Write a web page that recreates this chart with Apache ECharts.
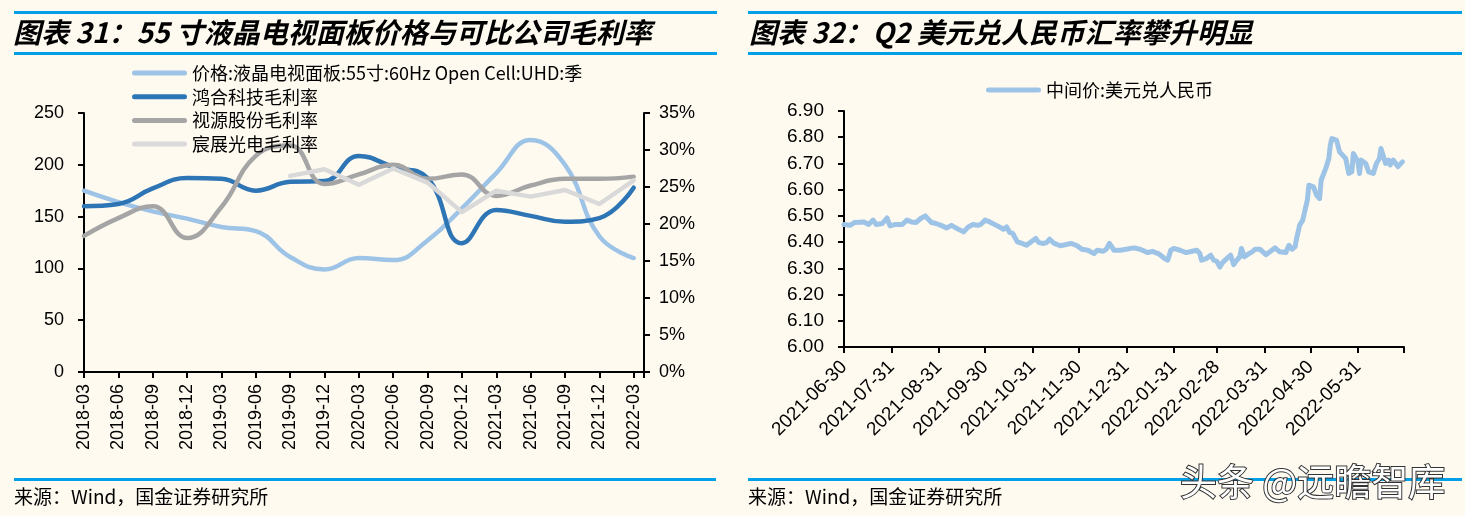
<!DOCTYPE html>
<html><head><meta charset="utf-8">
<script src="https://cdn.jsdelivr.net/npm/echarts@6/dist/echarts.min.js"></script>
<style>html,body{margin:0;padding:0;background:#FEFAF0;}#c{width:1465px;height:516px;}</style>
</head><body><div id="c"></div>
<script>
// ---------- Chart 31 data ----------
const quarters = ['2018-03','2018-06','2018-09','2018-12','2019-03','2019-06','2019-09','2019-12','2020-03','2020-06','2020-09','2020-12','2021-03','2021-06','2021-09','2021-12','2022-03'];
const priceName = '价格:液晶电视面板:55寸:60Hz Open Cell:UHD:季';
const priceTV  = [175,164,155,148,140,136,111,99,110,108,127,158,192,224,200,131,110];
const hongheGM = [22.4,22.7,24.8,26.2,26.1,24.5,25.7,25.8,29.2,27.7,26.2,17.4,21.9,21.1,20.3,20.8,24.9];
const cvteGM   = [18.4,20.8,22.4,18.1,22.3,29.2,30.6,25.4,26.7,28.0,26.1,26.7,23.8,25.2,26.1,26.1,26.4];
const kztGM    = [null,null,null,null,null,null,26.5,27.4,25.3,27.5,25.6,21.6,24.5,23.7,24.6,22.7,25.9];

// ---------- Chart 32 data ----------
const fxName = '中间价:美元兑人民币';
const fxDates = ['2021-06-30','2021-07-04','2021-07-07','2021-07-13','2021-07-16','2021-07-19','2021-07-21','2021-07-25','2021-07-28','2021-07-30',
'2021-08-02','2021-08-07','2021-08-10','2021-08-13','2021-08-16','2021-08-19','2021-08-22','2021-08-24','2021-08-26','2021-08-29',
'2021-09-02','2021-09-05','2021-09-08','2021-09-11','2021-09-16','2021-09-19','2021-09-22','2021-09-25','2021-09-27','2021-09-30',
'2021-10-03','2021-10-08','2021-10-12','2021-10-14','2021-10-16','2021-10-18','2021-10-21','2021-10-24','2021-10-27','2021-10-30',
'2021-11-02','2021-11-04','2021-11-07','2021-11-09','2021-11-11','2021-11-14','2021-11-18','2021-11-22','2021-11-25','2021-11-29',
'2021-12-02','2021-12-06','2021-12-10','2021-12-12','2021-12-16','2021-12-18','2021-12-20','2021-12-23','2021-12-27','2021-12-31',
'2022-01-05','2022-01-09','2022-01-12','2022-01-14','2022-01-17','2022-01-19','2022-01-21','2022-01-23','2022-01-25','2022-01-27','2022-01-29','2022-01-31',
'2022-02-04','2022-02-08','2022-02-12','2022-02-15','2022-02-17','2022-02-18','2022-02-21','2022-02-24','2022-02-26','2022-02-28',
'2022-03-02','2022-03-04','2022-03-07','2022-03-09','2022-03-11','2022-03-13','2022-03-15','2022-03-16','2022-03-18','2022-03-21','2022-03-23','2022-03-25','2022-03-28',
'2022-04-01','2022-04-04','2022-04-07','2022-04-10','2022-04-14','2022-04-16','2022-04-18','2022-04-20','2022-04-21','2022-04-23','2022-04-25','2022-04-27','2022-04-28','2022-04-29',
'2022-05-02','2022-05-04','2022-05-06','2022-05-07','2022-05-10','2022-05-12','2022-05-13','2022-05-14','2022-05-17','2022-05-19','2022-05-20','2022-05-23','2022-05-25','2022-05-27','2022-05-28','2022-05-31',
'2022-06-01','2022-06-02','2022-06-05','2022-06-07','2022-06-10','2022-06-12','2022-06-14','2022-06-15','2022-06-18','2022-06-20','2022-06-21','2022-06-23','2022-06-26','2022-06-29'];
const fxRates = [6.467,6.464,6.475,6.477,6.467,6.484,6.467,6.471,6.492,6.462,
6.467,6.467,6.484,6.477,6.475,6.490,6.500,6.487,6.475,6.471,
6.462,6.454,6.464,6.454,6.439,6.458,6.467,6.464,6.467,6.484,
6.477,6.462,6.449,6.458,6.437,6.433,6.401,6.395,6.388,6.401,
6.414,6.398,6.395,6.398,6.411,6.395,6.386,6.391,6.395,6.386,
6.373,6.369,6.356,6.369,6.365,6.373,6.395,6.369,6.369,6.373,
6.378,6.373,6.365,6.360,6.365,6.360,6.356,6.347,6.337,6.331,6.369,6.376,
6.369,6.360,6.365,6.369,6.356,6.331,6.337,6.350,6.331,6.327,
6.305,6.324,6.340,6.350,6.314,6.331,6.344,6.376,6.344,6.356,6.363,6.373,6.373,
6.352,6.365,6.378,6.363,6.360,6.388,6.373,6.382,6.414,6.465,6.484,6.535,6.560,6.617,
6.611,6.579,6.566,6.636,6.681,6.719,6.770,6.795,6.789,6.744,6.751,6.719,6.662,6.668,6.738,6.706,
6.662,6.713,6.700,6.668,6.662,6.700,6.719,6.757,6.700,6.713,6.694,6.713,6.688,6.706];
const fxStart = '2021-06-30', fxEnd = '2022-06-30';

// calendar of the FX x axis (one category per day)
const fxDays = [];
for (let t = Date.parse(fxStart); t <= Date.parse(fxEnd); t += 86400000) {
  fxDays.push(new Date(t).toISOString().slice(0,10));
}
const isMonthEnd = s => new Date(Date.parse(s) + 86400000).getUTCDate() === 1;

const NUM_FONT = 'Liberation Sans, Arial, sans-serif';
const CJK_FONT = 'Noto Sans CJK SC, sans-serif';
const blue = '#00A0E9';
const axisBlack = {show:true, lineStyle:{color:'#000', width:2}};
const tickBlack = {show:true, length:6, lineStyle:{color:'#000', width:2}};
const pill = 'path://M2.5,0H52.5A2.5,2.5,0,0,1,52.5,5H2.5A2.5,2.5,0,0,1,2.5,0Z';

const chart = echarts.init(document.getElementById('c'), null, {renderer:'canvas'});
chart.setOption({
  backgroundColor: '#FEFAF0',
  animation: false,
  grid: [
    {left:84, right:821, top:113, bottom:144, outerBoundsMode:'none'},
    {left:844, right:61, top:111, bottom:169, outerBoundsMode:'none'}
  ],
  legend: [
    {orient:'vertical', left:132, top:64, padding:0, itemWidth:55, itemHeight:5, itemGap:5.7, icon:pill,
     data:[priceName,'鸿合科技毛利率','视源股份毛利率','宸展光电毛利率'],
     textStyle:{color:'#000', fontSize:18, lineHeight:16, fontFamily:CJK_FONT}},
    {orient:'horizontal', left:986, top:81, padding:0, itemWidth:55, itemHeight:5, icon:pill,
     data:[fxName], textStyle:{color:'#000', fontSize:18, lineHeight:16, fontFamily:CJK_FONT}}
  ],
  xAxis: [
    {type:'value', gridIndex:0, min:0, max:16.3, interval:1,
     axisLine:axisBlack, axisTick:tickBlack, splitLine:{show:false},
     axisLabel:{rotate:90, margin:12, color:'#000', fontSize:18, fontFamily:NUM_FONT, hideOverlap:false,
       formatter: v => Number.isInteger(v) ? quarters[v] : ''}},
    {type:'category', gridIndex:1, data:fxDays, boundaryGap:false,
     axisLine:axisBlack,
     axisTick:{show:true, length:6, lineStyle:{color:'#000', width:2}, interval:(i,v)=>isMonthEnd(v)},
     splitLine:{show:false},
     axisLabel:{rotate:45, margin:17, color:'#000', fontSize:19, fontFamily:NUM_FONT, hideOverlap:false,
       interval:(i,v)=>isMonthEnd(v) && v !== fxEnd}}
  ],
  yAxis: [
    {type:'value', gridIndex:0, position:'left', min:0, max:250, interval:50,
     axisLine:axisBlack, axisTick:tickBlack, splitLine:{show:false},
     axisLabel:{margin:20, color:'#000', fontSize:18, fontFamily:NUM_FONT}},
    {type:'value', gridIndex:0, position:'right', min:0, max:35, interval:5,
     axisLine:axisBlack, axisTick:tickBlack, splitLine:{show:false},
     axisLabel:{margin:15, color:'#000', fontSize:18, fontFamily:NUM_FONT, formatter:'{value}%'}},
    {type:'value', gridIndex:1, position:'left', min:6, max:6.9, interval:0.1,
     axisLine:axisBlack, axisTick:tickBlack, splitLine:{show:false},
     axisLabel:{margin:20, color:'#000', fontSize:19, fontFamily:NUM_FONT, formatter:v=>v.toFixed(2)}}
  ],
  series: [
    {name:priceName, type:'line', xAxisIndex:0, yAxisIndex:0, smooth:0.45, showSymbol:false,
     color:'#9DC3E6', lineStyle:{width:4.5, color:'#9DC3E6', cap:'round'},
     data: priceTV.map((v,i)=>[i,v])},
    {name:'鸿合科技毛利率', type:'line', xAxisIndex:0, yAxisIndex:1, smooth:0.45, showSymbol:false,
     color:'#2E75B6', lineStyle:{width:4.5, color:'#2E75B6', cap:'round'},
     data: hongheGM.map((v,i)=>[i,v])},
    {name:'视源股份毛利率', type:'line', xAxisIndex:0, yAxisIndex:1, smooth:0.45, showSymbol:false,
     color:'#A5A5A5', lineStyle:{width:4.5, color:'#A5A5A5', cap:'round'},
     data: cvteGM.map((v,i)=>[i,v])},
    {name:'宸展光电毛利率', type:'line', xAxisIndex:0, yAxisIndex:1, smooth:false, showSymbol:false,
     color:'#D9D9D9', lineStyle:{width:4.5, color:'#D9D9D9', cap:'round', join:'round'},
     data: kztGM.map((v,i)=>[i,v]).filter(d=>d[1]!=null)},
    {name:fxName, type:'line', xAxisIndex:1, yAxisIndex:2, smooth:false, showSymbol:false,
     color:'#9DC3E6', lineStyle:{width:5, color:'#9DC3E6', cap:'round', join:'round'},
     data: fxDates.map((d,i)=>[d, fxRates[i]])}
  ],
  graphic: [
    {type:'rect', shape:{x:14, y:11, width:703, height:3}, style:{fill:blue}},
    {type:'rect', shape:{x:14, y:52, width:703, height:3}, style:{fill:blue}},
    {type:'rect', shape:{x:748, y:11, width:714, height:3}, style:{fill:blue}},
    {type:'rect', shape:{x:748, y:52, width:714, height:3}, style:{fill:blue}},
    {type:'rect', shape:{x:14, y:478, width:702, height:3}, style:{fill:blue}},
    {type:'rect', shape:{x:748, y:478, width:714, height:3}, style:{fill:blue}},
    {type:'text', x:13, y:32, style:{text:'图表 31：55 寸液晶电视面板价格与可比公司毛利率', fill:'#000',
      font:'italic bold 28px "Noto Sans CJK SC"', textVerticalAlign:'middle'}},
    {type:'text', x:749, y:32, style:{text:'图表 32：Q2 美元兑人民币汇率攀升明显', fill:'#000',
      font:'italic bold 28px "Noto Sans CJK SC"', textVerticalAlign:'middle'}},
    {type:'text', x:14, y:497, style:{text:'来源：Wind，国金证券研究所', fill:'#000',
      font:'19px "Noto Sans CJK SC"', textVerticalAlign:'middle'}},
    {type:'text', x:748, y:497, style:{text:'来源：Wind，国金证券研究所', fill:'#000',
      font:'19px "Noto Sans CJK SC"', textVerticalAlign:'middle'}},
    {type:'text', x:1180, y:482, z:100, style:{text:'头条 @远瞻智库', fill:'#ffffff', stroke:'#333', lineWidth:2,
      font:'37px "Noto Sans CJK SC"', textVerticalAlign:'middle'}}
  ]
});
</script></body></html>
